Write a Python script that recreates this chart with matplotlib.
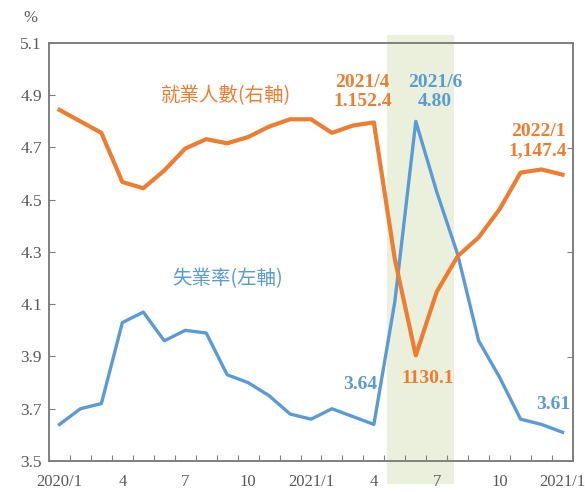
import matplotlib.pyplot as plt
import matplotlib.transforms as mtransforms
from matplotlib.patches import Rectangle
import numpy as np

plt.rcParams['font.family'] = ['Liberation Serif', 'Noto Sans CJK TC']

months = ["2020/1", "2020/2", "2020/3", "2020/4", "2020/5", "2020/6", "2020/7",
          "2020/8", "2020/9", "2020/10", "2020/11", "2020/12", "2021/1", "2021/2",
          "2021/3", "2021/4", "2021/5", "2021/6", "2021/7", "2021/8", "2021/9",
          "2021/10", "2021/11", "2021/12", "2022/1"]
# unemployment rate (%), left axis
unemp = [3.64, 3.70, 3.72, 4.03, 4.07, 3.96, 4.00, 3.99, 3.83, 3.80, 3.75, 3.68,
         3.66, 3.70, 3.67, 3.64, 4.11, 4.80, 4.53, 4.29, 3.96, 3.82, 3.66, 3.64, 3.61]
# employed persons (10k), right axis
employed = [1153.6, 1152.5, 1151.4, 1146.7, 1146.1, 1147.8, 1149.9, 1150.8, 1150.4,
            1151.0, 1152.0, 1152.7, 1152.7, 1151.4, 1152.1, 1152.4, 1139.3, 1130.1,
            1136.2, 1139.6, 1141.4, 1144.1, 1147.6, 1147.9, 1147.4]
tick_labels = ["2020/1", "4", "7", "10", "2021/1", "4", "7", "10", "2021/1"]

blue = "#5B9BD5"
orange = "#ED7D31"
grey = "#595959"
spine_c = "#7F7F7F"

fig = plt.figure(figsize=(5.85, 4.92), dpi=100)
ax1 = fig.add_axes([49/585, 31/492, 524/585, 418/492])
ax2 = ax1.twinx()

x = np.arange(len(months))

# shaded band for the outbreak months, runs past the frame a little
trans = mtransforms.blended_transform_factory(ax1.transData, ax1.transAxes)
ax1.add_patch(Rectangle((15.62, -0.055), 3.18, 1.074, transform=trans,
                        facecolor="#EBF0DC", edgecolor="none", zorder=0, clip_on=False))

ax1.plot(x, unemp, color=blue, lw=2.4, zorder=3)
ax2.plot(x, employed, color=orange, lw=3.0, zorder=3)

ax1.set_xlim(-0.5, len(months) - 0.5)
ax1.set_ylim(3.5, 5.1)
ax1.set_yticks(np.arange(3.5, 5.11, 0.2))
ax1.set_yticklabels([f"{v:.1f}" for v in np.arange(3.5, 5.11, 0.2)])
ax2.set_ylim(1120, 1160)
ax2.set_yticks(np.arange(1120, 1161, 10))

# ticks between months, labels every quarter
ax1.set_xticks(np.arange(-0.5, len(months), 1))
ax1.set_xticks(x[::3], minor=True)
ax1.set_xticklabels(tick_labels, minor=True)
ax1.tick_params(axis='x', which='major', direction='in', length=4, color=spine_c,
                labelbottom=False)
ax1.tick_params(axis='x', which='minor', length=0, pad=9, labelsize=12, labelcolor=grey)
ax1.tick_params(axis='y', direction='in', length=4, color=spine_c, pad=5,
                labelsize=12.5, labelcolor=grey)
ax2.tick_params(axis='y', direction='in', length=4, color=spine_c, labelright=False)

for ax in (ax1, ax2):
    for s in ax.spines.values():
        s.set_color(spine_c)
        s.set_linewidth(1.2)

cjk = ['Noto Sans CJK TC', 'Liberation Serif']
ax1.text(4.79, 4.90, "就業人數(右軸)", color=orange, fontsize=14, family=cjk,
         ha='left', va='center')
ax1.text(5.40, 4.20, "失業率(左軸)", color=blue, fontsize=14, family=cjk,
         ha='left', va='center')

bold = dict(fontsize=14, fontweight='bold', ha='center', va='center', linespacing=1.15)
ax1.text(14.45, 4.914, f"{months[15]}\n1.152.4", color=orange, **bold)
ax1.text(17.93, 4.912, f"{months[17]}\n{unemp[17]:.2f}", color=blue, **bold)
ax1.text(22.83, 4.725, f"{months[24]}\n{employed[24]:,.1f}", color=orange, **bold)
ax1.text(14.36, 3.791, f"{unemp[15]:.2f}", color=blue, **bold)
ax1.text(17.55, 3.814, f"{employed[17]:.1f}", color=orange, **bold)
ax1.text(23.55, 3.718, f"{unemp[24]:.2f}", color=blue, **bold)

fig.text(30/585, 1 - 18/492, "%", color=grey, fontsize=12, ha='center', va='center')

fig.savefig("out.png", dpi=100)
